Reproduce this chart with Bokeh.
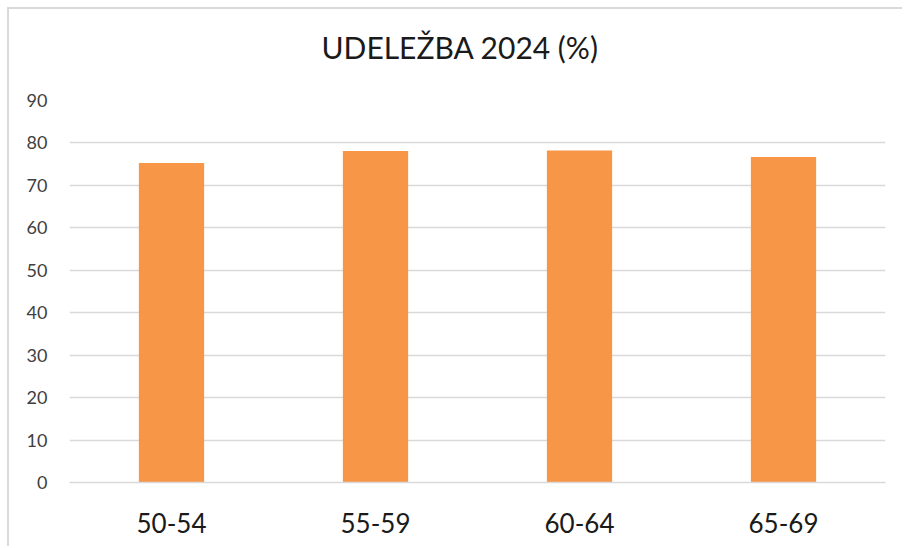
from bokeh.plotting import figure
from bokeh.models import Range1d, FactorRange, SingleIntervalTicker, Title
from bokeh.embed import file_html
from bokeh.resources import INLINE

categories = ["50-54", "55-59", "60-64", "65-69"]
values = [75.3, 78.1, 78.2, 76.7]
title_text = "UDELEŽBA 2024 (%)"

p = figure(
    width=895, height=539,
    x_range=FactorRange(*categories, range_padding=0),
    y_range=Range1d(0, 90),
    output_backend="svg", toolbar_location=None,
    min_border_left=60, min_border_right=19,
    min_border_top=91, min_border_bottom=66,
)
p.styles = {
    "margin-left": "7px", "margin-top": "7px",
    "border-left": "2px solid #d9d9d9", "border-top": "2px solid #d9d9d9",
}
p.outline_line_color = None
p.background_fill_color = "white"
p.border_fill_color = "white"
p.title.text = ""

p.vbar(x=categories, top=values, width=0.32, fill_color="#F79646", line_color=None)

# spacer between frame and title
spacer = Title(text=" ", text_font_size="1px", standoff=33, text_color="white")
p.add_layout(spacer, "above")

main_title = Title(
    text=title_text, align="left", vertical_align="bottom",
    text_font="Lato", text_font_style="normal", text_font_size="30px",
    text_color="#1a1a1a", standoff=0, offset=252,
)
p.add_layout(main_title, "above")

# grid
p.xgrid.grid_line_color = None
p.ygrid.grid_line_color = "#d9d9d9"
p.ygrid.grid_line_width = 1.5
p.yaxis.ticker = SingleIntervalTicker(interval=10)

# y axis
p.yaxis.axis_line_color = None
p.yaxis.major_tick_line_color = None
p.yaxis.minor_tick_line_color = None
p.yaxis.major_label_standoff = 16
p.yaxis.major_label_text_font = "Lato"
p.yaxis.major_label_text_font_size = "18px"
p.yaxis.major_label_text_color = "#404040"

# x axis
p.xaxis.axis_line_color = "#d9d9d9"
p.xaxis.axis_line_width = 1.5
p.xaxis.major_tick_line_color = None
p.xaxis.minor_tick_line_color = None
p.xaxis.major_label_standoff = 24
p.xaxis.major_label_text_font = "Lato"
p.xaxis.major_label_text_font_size = "26px"
p.xaxis.major_label_text_color = "#1a1a1a"

open("out.html", "w").write(file_html(p, INLINE))
